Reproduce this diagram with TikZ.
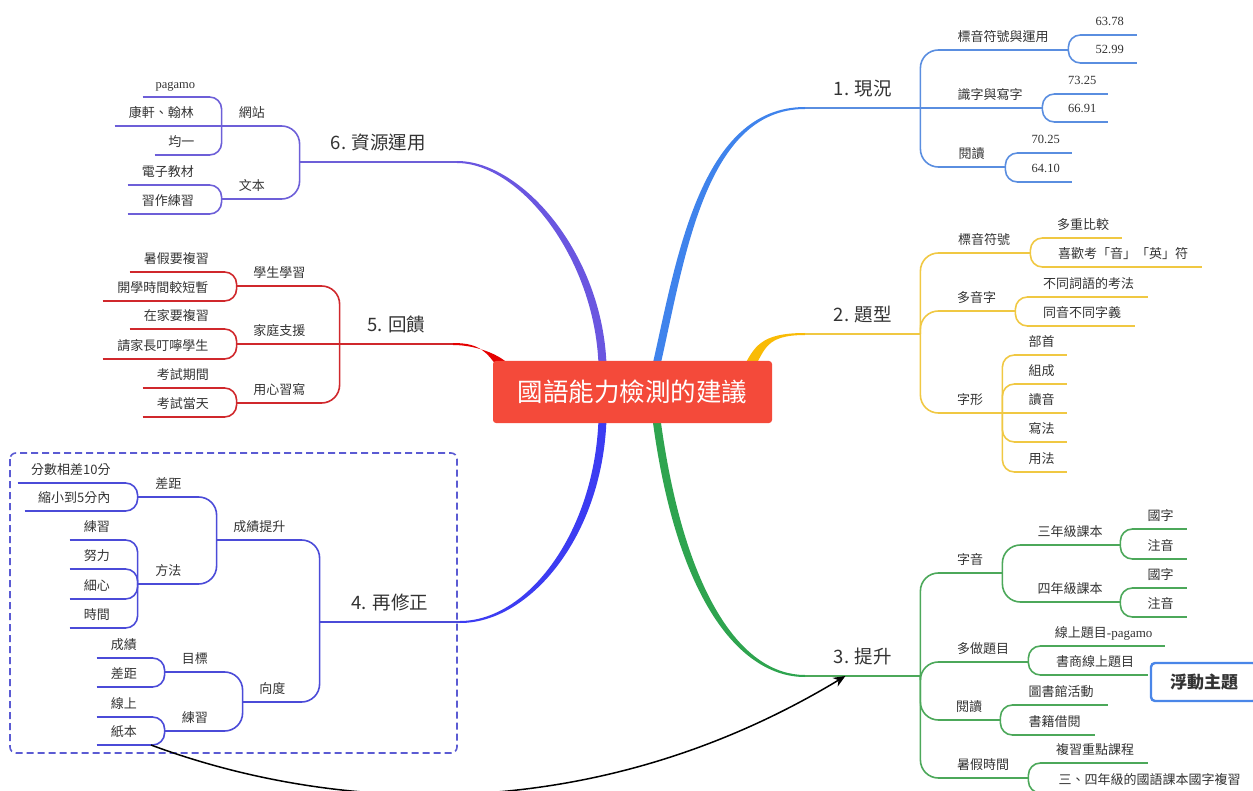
\documentclass[tikz,border=0pt]{standalone}
\usepackage{fontspec}
\setmainfont{Noto Sans CJK TC}
\newfontfamily\numfont{Liberation Serif}
\usetikzlibrary{calc, arrows.meta}
\pgfdeclarelayer{background}
\pgfsetlayers{background,main}

\definecolor{txt}{HTML}{333333}
\definecolor{rootred}{HTML}{F44A3A}
\definecolor{k1}{HTML}{3F83EC}
\definecolor{l1}{HTML}{5A8EE0}
\definecolor{k2}{HTML}{F9BB05}
\definecolor{l2}{HTML}{F0C843}
\definecolor{k3}{HTML}{2EA44F}
\definecolor{l3}{HTML}{4CA85A}
\definecolor{k4}{HTML}{3C3CF2}
\definecolor{l4}{HTML}{4B4BD8}
\definecolor{k5}{HTML}{E50000}
\definecolor{l5}{HTML}{D0282C}
\definecolor{k6}{HTML}{6A56E0}
\definecolor{l6}{HTML}{6D5FD8}
\definecolor{fr}{HTML}{5B5BD3}
\definecolor{fb}{HTML}{4A86E8}

\begin{document}
\begin{tikzpicture}[x=1pt, y=-1pt]
	% Define styles
	\tikzset{
		tp/.style={inner sep=0pt, minimum height=26pt, text=txt, font=\fontsize{13}{15}\selectfont, text height=9.5pt, text depth=0pt},
		rn/.style={tp, anchor=south west, minimum width=#1},
		ln/.style={tp, anchor=south east, minimum width=#1},
		nn/.style={rn=#1, font=\numfont\fontsize{12.5}{15}\selectfont, text height=8.2pt},
		mn/.style={tp, minimum width=#1, minimum height=38pt, font=\fontsize{18.5}{22}\selectfont, text height=14pt},
		rootbox/.style={rectangle, fill=rootred, rounded corners=3pt, text=white, minimum width=279pt, minimum height=62pt, font=\fontsize{25.5}{30}\selectfont},
		floatbox/.style={rectangle, draw=fb, fill=white, line width=2.4pt, rounded corners=4pt, minimum width=106pt, minimum height=38pt, text=txt, font=\bfseries\fontsize{17}{20}\selectfont},
		line/.style={line width=1.6pt},
		dashframe/.style={draw=fr, line width=1.6pt, dash pattern=on 7pt off 4pt, rounded corners=6pt}
	}
	\useasboundingbox (0,0) rectangle (1253,791);

	% Root
	\node[rootbox] (rootb) at (632.5,392) {國語能力檢測的建議};

	% 1. 現況
	\node[mn=115, anchor=south west] (m1) at (805,108) {1. 現況};
	\node[rn=130] (a1) at (938,50) {標音符號與運用};
	\node[rn=104] (a2) at (938,108) {識字與寫字};
	\node[rn=67] (a3) at (938,167) {閱讀};
	\node[nn=55] (a11) at (1082,35) {63.78};
	\node[nn=55] (a12) at (1082,63) {52.99};
	\node[nn=52] (a21) at (1056,94) {73.25};
	\node[nn=52] (a22) at (1056,122) {66.91};
	\node[nn=53] (a31) at (1019,153) {70.25};
	\node[nn=53] (a32) at (1019,182) {64.10};

	% 2. 題型
	\node[mn=115, anchor=south west] (m2) at (805,334) {2. 題型};
	\node[rn=92] (b1) at (938,253) {標音符號};
	\node[rn=77] (b2) at (938,311) {多音字};
	\node[rn=64] (b3) at (938,413) {字形};
	\node[rn=78] (b11) at (1044,238) {多重比較};
	\node[rn=158] (b12) at (1044,267) {喜歡考「音」「英」符};
	\node[rn=119] (b21) at (1029,297) {不同詞語的考法};
	\node[rn=106] (b22) at (1029,326) {同音不同字義};
	\node[rn=51] (b31) at (1016,355) {部首};
	\node[rn=51] (b32) at (1016,384) {組成};
	\node[rn=51] (b33) at (1016,413) {讀音};
	\node[rn=51] (b34) at (1016,442) {寫法};
	\node[rn=51] (b35) at (1016,472) {用法};

	% 3. 提升
	\node[mn=115, anchor=south west] (m3) at (805,676) {3. 提升};
	\node[rn=64] (c1) at (938,573) {字音};
	\node[rn=90] (c2) at (938,662) {多做題目};
	\node[rn=62] (c3) at (938,720) {閱讀};
	\node[rn=90] (c4) at (938,778) {暑假時間};
	\node[rn=100] (c11) at (1020,545) {三年級課本};
	\node[rn=100] (c12) at (1020,602) {四年級課本};
	\node[rn=53] (c111) at (1134,529) {國字};
	\node[rn=53] (c112) at (1134,559) {注音};
	\node[rn=53] (c121) at (1134,588) {國字};
	\node[rn=53] (c122) at (1134,617) {注音};
	\node[rn=123] (c21) at (1042,646) {線上題目{\numfont -pagamo}};
	\node[rn=106] (c22) at (1042,675) {書商線上題目};
	\node[rn=94] (c31) at (1014,705) {圖書館活動};
	\node[rn=81] (c32) at (1014,735) {書籍借閱};
	\node[rn=106] (c41) at (1042,763) {複習重點課程};
	\node[rn=215] (c42) at (1042,793) {三、四年級的國語課本國字複習};
	\node[floatbox] (fl) at (1204,682) {浮動主題};

	% 4. 再修正
	\node[mn=140, anchor=south east] (m4) at (460,622) {4. 再修正};
	\node[ln=85] (d1) at (302,540) {成績提升};
	\node[ln=59] (d2) at (302,702) {向度};
	\node[ln=61] (d11) at (199,497) {差距};
	\node[ln=61] (d12) at (199,584) {方法};
	\node[ln=106] (d111) at (124,483) {分數相差10分};
	\node[ln=99] (d112) at (124,511) {縮小到5分內};
	\node[ln=54] (d121) at (124,540) {練習};
	\node[ln=54] (d122) at (124,569) {努力};
	\node[ln=54] (d123) at (124,599) {細心};
	\node[ln=54] (d124) at (124,628) {時間};
	\node[ln=60] (d21) at (225,672) {目標};
	\node[ln=60] (d22) at (225,731) {練習};
	\node[ln=54] (d211) at (151,658) {成績};
	\node[ln=54] (d212) at (151,687) {差距};
	\node[ln=54] (d221) at (151,717) {線上};
	\node[ln=54] (d222) at (151,745) {紙本};

	% 5. 回饋
	\node[mn=113, anchor=south east] (m5) at (453,344) {5. 回饋};
	\node[ln=85] (e1) at (322,286) {學生學習};
	\node[ln=85] (e2) at (322,344) {家庭支援};
	\node[ln=85] (e3) at (322,403) {用心習寫};
	\node[ln=93] (e11) at (223,272) {暑假要複習};
	\node[ln=120] (e12) at (223,301) {開學時間較短暫};
	\node[ln=93] (e21) at (223,329) {在家要複習};
	\node[ln=120] (e22) at (223,359) {請家長叮嚀學生};
	\node[ln=80] (e31) at (223,388) {考試期間};
	\node[ln=80] (e32) at (223,417) {考試當天};

	% 6. 資源運用
	\node[mn=157, anchor=south east] (m6) at (457,162) {6. 資源運用};
	\node[ln=60] (f1) at (282,126) {網站};
	\node[ln=60] (f2) at (282,199) {文本};
	\node[ln=65, font=\numfont\fontsize{12.5}{15}\selectfont] (f11) at (208,97) {pagamo};
	\node[ln=93] (f12) at (208,126) {康軒、翰林};
	\node[ln=53] (f13) at (208,155) {均一};
	\node[ln=80] (f21) at (208,185) {電子教材};
	\node[ln=80] (f22) at (208,214) {習作練習};

	% Main branches
	\begin{pgfonlayer}{background}
		\fill[k1] ($(rootb.north)+(20,4)$) .. controls +(24,-105) and +(-105,0) .. ($(m1.south west)+(0,-1)$)
			-- ($(m1.south west)+(0,1)$) .. controls +(-100,0) and +(24,-105) .. ($(rootb.north)+(28,4)$) -- cycle;
		\fill[k2] ($(rootb.north)+(110,8)$) .. controls +(12,-22) and +(-45,0) .. ($(m2.south west)+(0,-1)$)
			-- ($(m2.south west)+(0,1)$) .. controls +(-40,0) and +(12,-19) .. ($(rootb.north)+(121,8)$) -- cycle;
		\fill[k3] ($(rootb.south)+(20,-4)$) .. controls +(24,181) and +(-65,0) .. ($(m3.south west)+(0,1)$)
			-- ($(m3.south west)+(0,-1)$) .. controls +(-62,0) and +(24,178) .. ($(rootb.south)+(28,-4)$) -- cycle;
		\fill[k4] ($(rootb.south)+(-26,-4)$) .. controls +(-4,117) and +(70,0) .. ($(m4.south east)+(0,1)$)
			-- ($(m4.south east)+(0,-1)$) .. controls +(67,0) and +(-4,114) .. ($(rootb.south)+(-34,-4)$) -- cycle;
		\fill[k5] ($(rootb.north west)+(6,8)$) .. controls +(-12,-16) and +(28,0) .. ($(m5.south east)+(0,-1)$)
			-- ($(m5.south east)+(0,1)$) .. controls +(26,0) and +(-8,-12) .. ($(rootb.north west)+(20,8)$) -- cycle;
		\fill[k6] ($(rootb.north)+(-26,4)$) .. controls +(-4,-111) and +(65,0) .. ($(m6.south east)+(0,-1)$)
			-- ($(m6.south east)+(0,1)$) .. controls +(62,0) and +(-4,-108) .. ($(rootb.north)+(-34,4)$) -- cycle;
	\end{pgfonlayer}

	% Lines 1
	\foreach \n in {m1,a1,a2,a3,a11,a12,a21,a22,a31,a32}
		\draw[line, draw=l1] (\n.south west) -- (\n.south east);
	\foreach \p/\c/\r in {m1/a1/18, m1/a3/18, a1/a11/12, a1/a12/12, a2/a21/12, a2/a22/12, a3/a31/12, a3/a32/12}
		\draw[line, draw=l1, rounded corners=\r] (\p.south east) |- (\c.south west);
	\draw[line, draw=l1] (m1.south east) -- (a2.south west);

	% Lines 2
	\foreach \n in {m2,b1,b2,b3,b11,b12,b21,b22,b31,b32,b33,b34,b35}
		\draw[line, draw=l2] (\n.south west) -- (\n.south east);
	\foreach \p/\c/\r in {m2/b1/18, m2/b2/18, m2/b3/18, b1/b11/12, b1/b12/12, b2/b21/12, b2/b22/12, b3/b31/12, b3/b32/12, b3/b34/12, b3/b35/12}
		\draw[line, draw=l2, rounded corners=\r] (\p.south east) |- (\c.south west);
	\draw[line, draw=l2] (b3.south east) -- (b33.south west);

	% Lines 3
	\foreach \n in {m3,c1,c2,c3,c4,c11,c12,c111,c112,c121,c122,c21,c22,c31,c32,c41,c42}
		\draw[line, draw=l3] (\n.south west) -- (\n.south east);
	\foreach \p/\c/\r in {m3/c1/18, m3/c2/18, m3/c3/18, m3/c4/18, c1/c11/18, c1/c12/18, c11/c111/12, c11/c112/12, c12/c121/12, c12/c122/12, c2/c21/12, c2/c22/12, c3/c31/12, c3/c32/12, c4/c41/12, c4/c42/12}
		\draw[line, draw=l3, rounded corners=\r] (\p.south east) |- (\c.south west);

	% Lines 4
	\draw[dashframe] (10,453) rectangle (457,753);
	\foreach \n in {m4,d1,d2,d11,d12,d111,d112,d121,d122,d123,d124,d21,d22,d211,d212,d221,d222}
		\draw[line, draw=l4] (\n.south west) -- (\n.south east);
	\foreach \p/\c/\r in {m4/d1/18, m4/d2/18, d1/d11/18, d1/d12/18, d11/d111/12, d11/d112/12, d12/d121/12, d12/d122/12, d12/d123/12, d12/d124/12, d2/d21/18, d2/d22/18, d21/d211/12, d21/d212/12, d22/d221/12, d22/d222/12}
		\draw[line, draw=l4, rounded corners=\r] (\p.south west) |- (\c.south east);

	% Lines 5
	\foreach \n in {m5,e1,e2,e3,e11,e12,e21,e22,e31,e32}
		\draw[line, draw=l5] (\n.south west) -- (\n.south east);
	\foreach \p/\c/\r in {m5/e1/18, m5/e3/18, e1/e11/12, e1/e12/12, e2/e21/12, e2/e22/12, e3/e31/12, e3/e32/12}
		\draw[line, draw=l5, rounded corners=\r] (\p.south west) |- (\c.south east);
	\draw[line, draw=l5] (m5.south west) -- (e2.south east);

	% Lines 6
	\foreach \n in {m6,f1,f2,f11,f12,f13,f21,f22}
		\draw[line, draw=l6] (\n.south west) -- (\n.south east);
	\foreach \p/\c/\r in {m6/f1/18, m6/f2/18, f1/f11/12, f1/f13/12, f2/f21/12, f2/f22/12}
		\draw[line, draw=l6, rounded corners=\r] (\p.south west) |- (\c.south east);
	\draw[line, draw=l6] (f1.south west) -- (f12.south east);

	% Arrow
	\draw[-{Stealth[length=12pt, width=10pt]}, line width=1.5pt] (d222.south east) .. controls +(180,67) and +(-255,154) .. ($(m3.south west)!0.35!(m3.south east)$);
\end{tikzpicture}
\end{document}
